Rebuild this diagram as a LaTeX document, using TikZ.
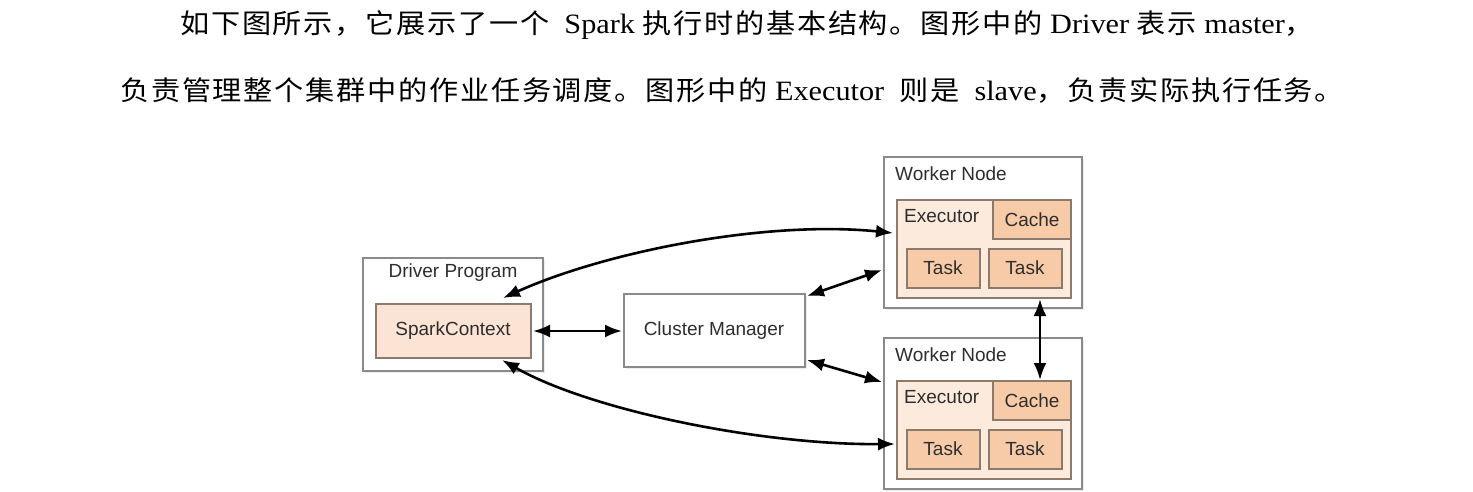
\documentclass[tikz,border=0pt]{standalone}
\usepackage{fontspec}
\setmainfont{Liberation Serif}
\newfontfamily\cjk[LetterSpace=6]{Noto Sans CJK SC}
\newfontfamily\diag{Liberation Sans}
\usetikzlibrary{arrows.meta,shadows}
\definecolor{boxline}{HTML}{8A8A8A}
\definecolor{inline}{HTML}{8C7A6C}
\definecolor{ctxfill}{HTML}{FBE4D3}
\definecolor{exfill}{HTML}{FCEADC}
\definecolor{taskfill}{HTML}{F8CBA8}
\definecolor{txt}{HTML}{2E2E2E}
\tikzset{
  outerbox/.style={draw=boxline, line width=1.2pt, fill=white, drop shadow={opacity=0.15, shadow xshift=2pt, shadow yshift=-2pt}},
  ctxbox/.style={draw=inline, line width=1.2pt, fill=ctxfill},
  exbox/.style={draw=inline, line width=1.2pt, fill=exfill},
  taskbox/.style={draw=inline, line width=1.2pt, fill=taskfill},
  lbl/.style={font=\diag\fontsize{19}{22}\selectfont, text=txt, inner sep=0pt},
  conn/.style={line width=2.6pt, {Latex[length=17pt,width=13pt]}-{Latex[length=17pt,width=13pt]}},
  para/.style={font=\fontsize{28}{32}\selectfont, inner sep=0pt, anchor=base west}
}
\newcommand{\cjkt}[1]{{\fontsize{27}{32}\selectfont\cjk #1}}
\begin{document}
\begin{tikzpicture}[x=1pt,y=-1pt]
\useasboundingbox (0,0) rectangle (1473,491);
% paragraph text
\node[para] (l1) at (180,33) {\scalebox{1.08}[1]{\cjkt{如下图所示，它展示了一个}\ \ Spark \cjkt{执行时的基本结构。图形中的} Driver \cjkt{表示} master\cjkt{，}}};
\node[para] (l2) at (120,100) {\scalebox{1.08}[1]{\cjkt{负责管理整个集群中的作业任务调度。图形中的} Executor\ \ \cjkt{则是}\ \ slave\cjkt{，负责实际执行任务。}}};
% driver
\draw[outerbox] (363,258) rectangle (543,371);
\node[lbl] (dp) at (453,273) {Driver Program};
\draw[ctxbox] (376,304) rectangle (531,358);
\node[lbl] (sc) at (453,331) {SparkContext};
\coordinate (scE) at (533,331);
\coordinate (scT) at (503,298);
\coordinate (scB) at (502,360);
% cluster manager
\draw[outerbox] (624,294) rectangle (805,367);
\node[lbl] (cm) at (714,331) {Cluster Manager};
\coordinate (cmW) at (622,331);
\coordinate (cmNE) at (807,296);
\coordinate (cmSE) at (807,360);
% worker nodes
\foreach \dy/\nm in {0/a,181/b}{
  \begin{scope}[yshift=-\dy pt]
  \draw[outerbox] (884,157) rectangle (1082,308);
  \node[lbl, anchor=west] (wn\nm) at (895,174) {Worker Node};
  \draw[exbox] (897,200) rectangle (1071,298);
  \node[lbl, anchor=west] (ex\nm) at (904,216) {Executor};
  \draw[taskbox] (993,200) rectangle (1071,239);
  \node[lbl] (ca\nm) at (1032,220) {Cache};
  \draw[taskbox] (907,249) rectangle (980,288);
  \node[lbl] (ta\nm) at (943,268) {Task};
  \draw[taskbox] (989,249) rectangle (1062,288);
  \node[lbl] (tb\nm) at (1025,268) {Task};
  \end{scope}
}
\coordinate (w1ex) at (893,233);
\coordinate (w1l) at (882,270);
\coordinate (w1b) at (1040,299);
\coordinate (w2l) at (882,382);
\coordinate (w2ca) at (1040,380);
\coordinate (w2ex) at (895,444);
% connectors
\draw[conn] (scE) -- (cmW);
\draw[conn] (scT) .. controls (605,252) and (765,220) .. (w1ex);
\draw[conn] (scB) .. controls (590,410) and (760,445) .. (w2ex);
\draw[conn] (cmNE) -- (w1l);
\draw[conn] (cmSE) -- (w2l);
\draw[conn] (w1b) -- (w2ca);
\end{tikzpicture}
\end{document}
